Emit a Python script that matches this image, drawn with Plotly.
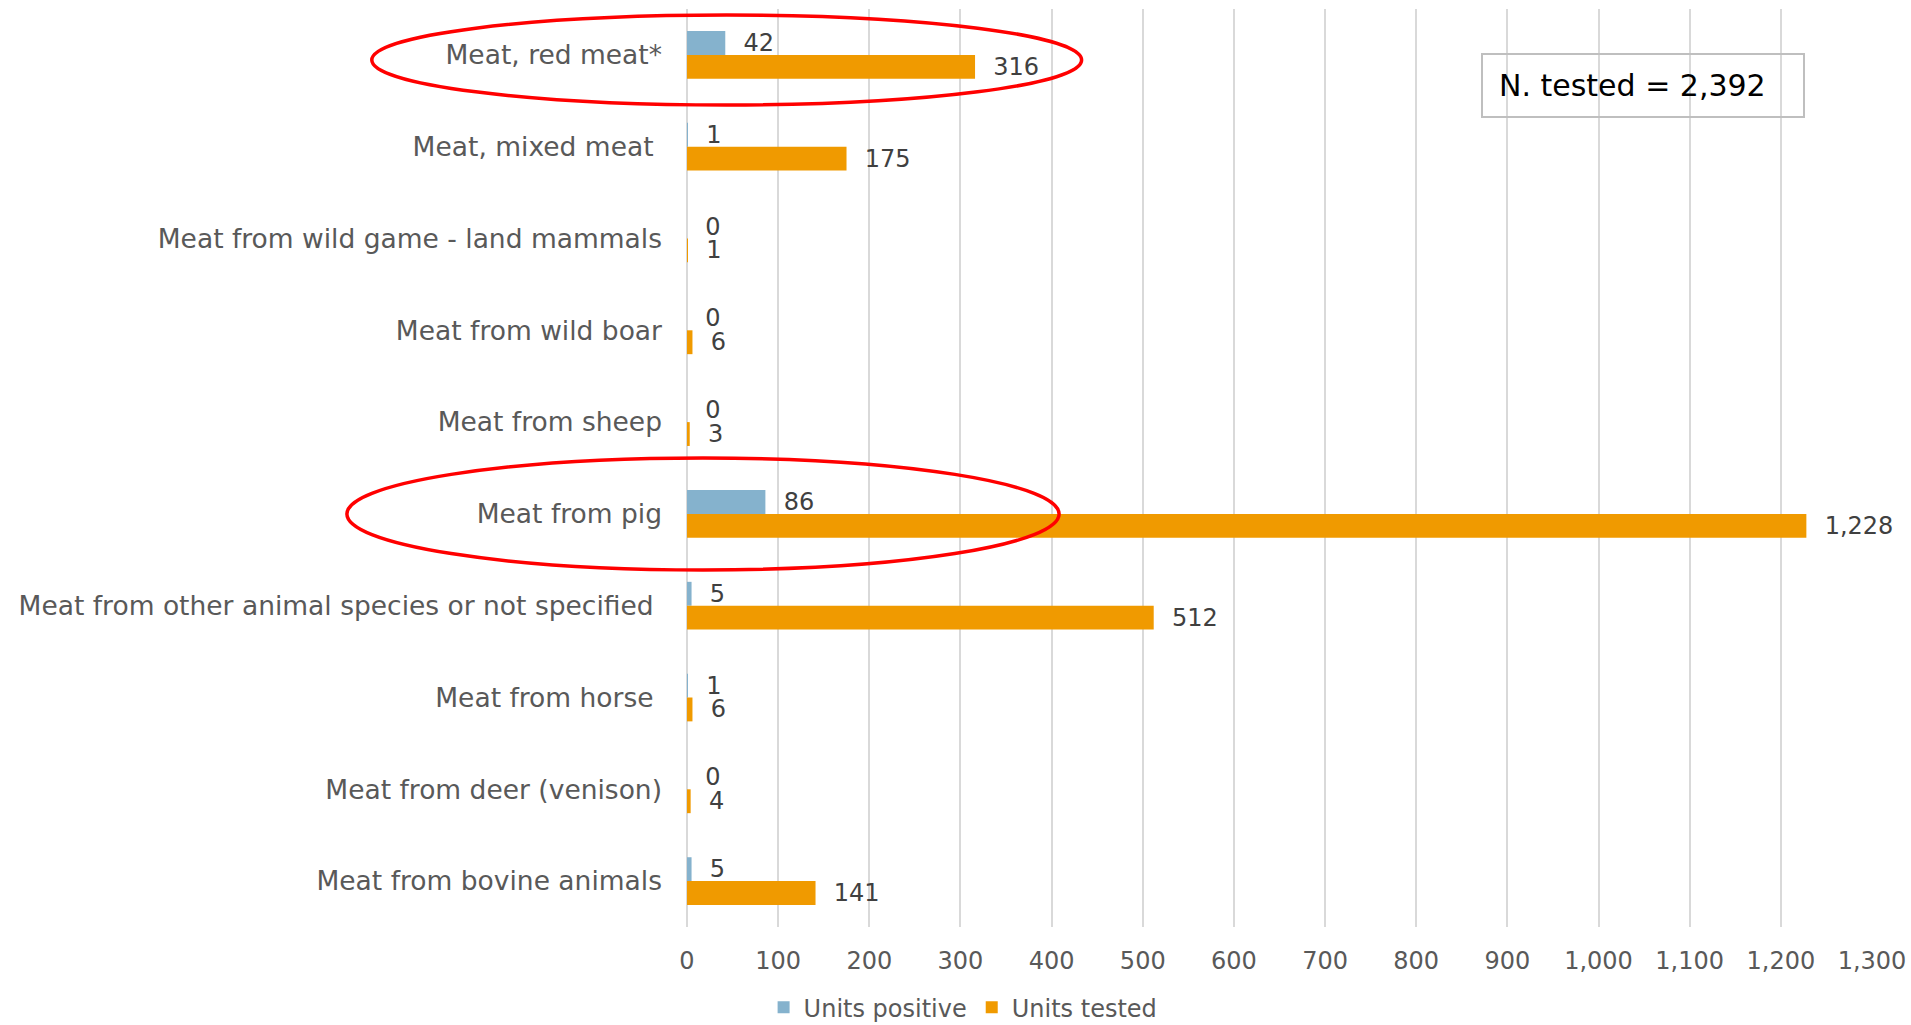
import plotly.graph_objects as go

categories = [
    "Meat, red meat*",
    "Meat, mixed meat\u00a0",
    "Meat from wild game - land mammals",
    "Meat from wild boar",
    "Meat from sheep",
    "Meat from pig",
    "Meat from other animal species or not specified\u00a0",
    "Meat from horse\u00a0",
    "Meat from deer (venison)",
    "Meat from bovine animals",
]
units_positive = [42, 1, 0, 0, 0, 86, 5, 1, 0, 5]
units_tested = [316, 175, 1, 6, 3, 1228, 512, 6, 4, 141]
x_ticks = list(range(0, 1301, 100))
box_text = "\u2009N. tested = 2,392"

FONT = "DejaVu Sans"
BLUE = "#85b2cd"
ORANGE = "#f09a00"

fig = go.Figure()
fig.add_trace(go.Bar(
    y=categories, x=units_positive, orientation="h", name="Units positive",
    marker=dict(color=BLUE, line=dict(width=0)),
    texttemplate="\u00a0\u00a0%{x:,}", textposition="outside",
    outsidetextfont=dict(family=FONT, size=24, color="#404040"),
    constraintext="none", cliponaxis=False,
))
fig.add_trace(go.Bar(
    y=categories, x=units_tested, orientation="h", name="Units tested",
    marker=dict(color=ORANGE, line=dict(width=0)),
    texttemplate="\u00a0\u00a0%{x:,}", textposition="outside",
    outsidetextfont=dict(family=FONT, size=24, color="#404040"),
    constraintext="none", cliponaxis=False,
))

fig.update_layout(
    width=1911, height=1025,
    margin=dict(l=687, r=39, t=9, b=98, autoexpand=False),
    paper_bgcolor="white", plot_bgcolor="white",
    barmode="group", bargap=0.48, bargroupgap=0,
    font=dict(family=FONT, color="#595959"),
    showlegend=True,
    legend=dict(orientation="h", x=0.233, xanchor="center",
                yref="container", y=0.017, yanchor="middle",
                font=dict(family=FONT, size=24, color="#595959"),
                itemwidth=30, tracegroupgap=0),
    xaxis=dict(range=[0, 1300], tickvals=x_ticks, tickformat=",",
               showgrid=True, gridcolor="#d9d9d9", gridwidth=2,
               zeroline=True, zerolinecolor="#d9d9d9", zerolinewidth=2,
               showline=False, ticks="", ticklabelstandoff=17,
               tickfont=dict(family=FONT, size=24, color="#595959")),
    yaxis=dict(autorange="reversed", showgrid=False, showline=False, ticks="",
               ticklabelstandoff=24,
               tickfont=dict(family=FONT, size=26.5, color="#595959")),
)

fig.add_shape(type="circle", xref="paper", yref="paper",
              x0=-0.266, x1=0.333, y0=0.8954, y1=0.9935,
              line=dict(color="#ff0000", width=3.5))
fig.add_shape(type="circle", xref="paper", yref="paper",
              x0=-0.287, x1=0.314, y0=0.3889, y1=0.5109,
              line=dict(color="#ff0000", width=3.5))

fig.add_annotation(xref="paper", yref="paper", x=0.807, y=0.9172,
                   xanchor="center", yanchor="middle",
                   text=box_text, showarrow=False, align="left",
                   width=300, height=41, borderpad=10,
                   bordercolor="#bfbfbf", borderwidth=2,
                   font=dict(family=FONT, size=30, color="#000000"))

fig.write_html("out.html")
